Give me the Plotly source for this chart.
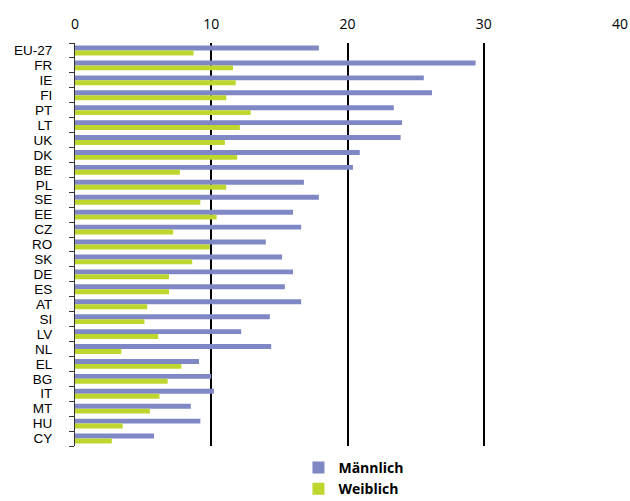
import plotly.graph_objects as go

countries = ["EU-27", "FR", "IE", "FI", "PT", "LT", "UK", "DK", "BE", "PL", "SE", "EE", "CZ",
             "RO", "SK", "DE", "ES", "AT", "SI", "LV", "NL", "EL", "BG", "IT", "MT", "HU", "CY"]
maennlich = [17.9, 29.4, 25.6, 26.2, 23.4, 24.0, 23.9, 20.9, 20.4, 16.8, 17.9, 16.0, 16.6,
             14.0, 15.2, 16.0, 15.4, 16.6, 14.3, 12.2, 14.4, 9.1, 10.0, 10.2, 8.5, 9.2, 5.8]
weiblich = [8.7, 11.6, 11.8, 11.1, 12.9, 12.1, 11.0, 11.9, 7.7, 11.1, 9.2, 10.4, 7.2,
            9.9, 8.6, 6.9, 6.9, 5.3, 5.1, 6.1, 3.4, 7.8, 6.8, 6.2, 5.5, 3.5, 2.7]
x_ticks = [0, 10, 20, 30, 40]

BLUE = "#7f88c4"
GREEN = "#bfd62f"

fig = go.Figure()
fig.add_trace(go.Bar(y=countries, x=maennlich, name="Männlich", orientation="h",
                     marker=dict(color=BLUE, line=dict(width=0)), legendgroup="m"))
fig.add_trace(go.Bar(y=countries, x=weiblich, name="Weiblich", orientation="h",
                     marker=dict(color=GREEN, line=dict(width=0)), legendgroup="w"))

fig.update_layout(
    width=630, height=501,
    margin=dict(l=75, r=10, t=43, b=55, autoexpand=False),
    paper_bgcolor="white", plot_bgcolor="white",
    barmode="group", bargap=0.34, bargroupgap=0,
    font=dict(family="Open Sans", color="black"),
    showlegend=True,
    legend=dict(orientation="v", x=0.41, xanchor="left",
                yref="container", y=0.098, yanchor="top",
                font=dict(size=14, family="Open Sans", weight="bold"),
                tracegroupgap=14, itemwidth=30, traceorder="normal"),
    xaxis=dict(side="top", range=[0, 40], tickvals=x_ticks, ticks="",
               showgrid=True, gridcolor="black", gridwidth=1.5,
               zeroline=False, showline=False,
               tickfont=dict(size=14), ticklabelstandoff=10),
    yaxis=dict(autorange="reversed", type="category", showgrid=False,
               tickmode="array", tickvals=countries, ticktext=countries,
               showline=True, linecolor="#333333", linewidth=1,
               ticks="outside", tickson="boundaries", ticklen=5, tickcolor="#333333",
               tickfont=dict(size=13.5, family="Liberation Sans"), ticklabelstandoff=19),
)

fig.write_html("out.html")
